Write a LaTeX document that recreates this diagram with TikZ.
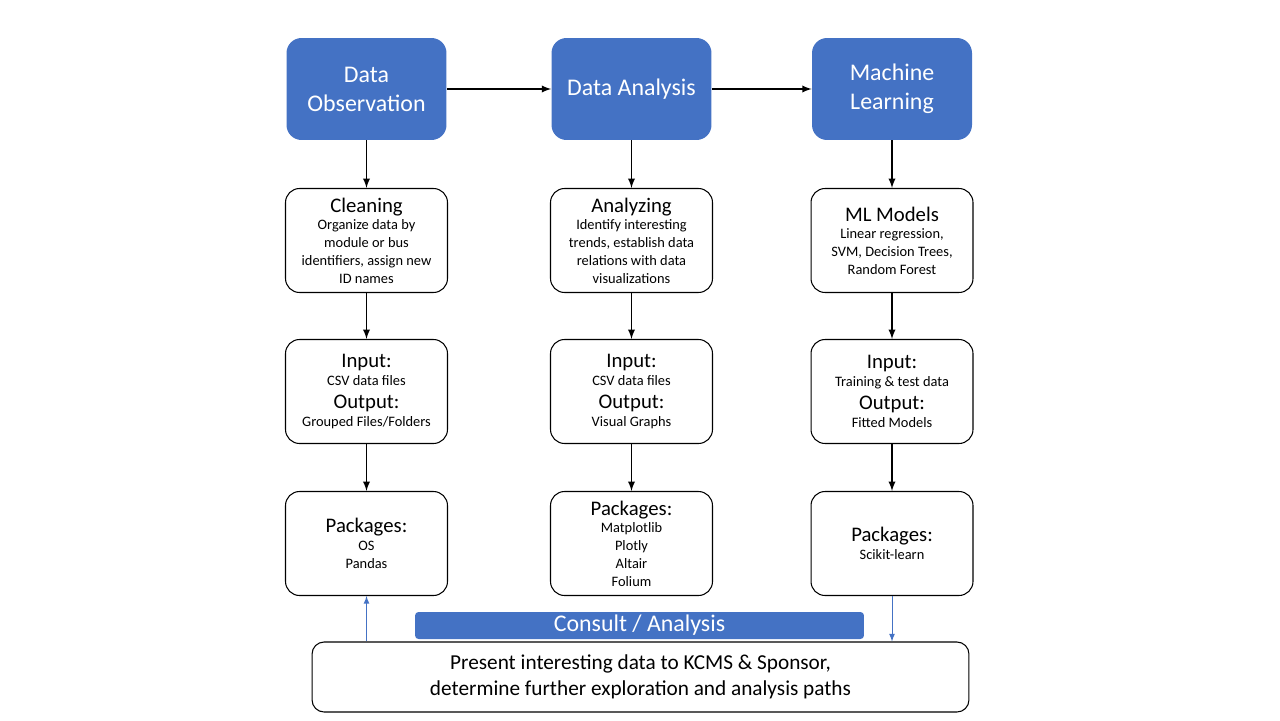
\documentclass[tikz,border=0pt]{standalone}
\usepackage{fontspec}
\setmainfont{Carlito}
\usetikzlibrary{arrows}

\definecolor{stageblue}{RGB}{68,114,196}
\newcommand\hdfont{\fontsize{13.6}{16.5}\selectfont}
\newcommand\ttlfont{\fontsize{11.8}{13}\selectfont}
\newcommand\bdfont{\fontsize{8.2}{10.1}\selectfont}
\newcommand\ftfont{\fontsize{12.1}{14.8}\selectfont}

\tikzset{
  stage/.style={fill=stageblue, rounded corners=0.3cm, text=white,
    minimum width=3.2cm, minimum height=2.04cm, text width=3.0cm,
    align=flush center, font=\hdfont, inner sep=0pt},
  task/.style={draw, line width=0.6pt, rounded corners=0.28cm,
    minimum width=3.24cm, minimum height=2.08cm, text width=3.1cm,
    align=flush center, font=\bdfont, inner sep=0pt},
  flow/.style={arrows={-latex}, line width=0.85pt},
  loopback/.style={arrows={-latex}, line width=0.5pt, draw=stageblue}
}

\begin{document}
\begin{tikzpicture}[x=0.02cm, y=-0.02cm]
\useasboundingbox (0,0) rectangle (1280,720);

% stages
\node[stage] at (366.5,89) (obs) {Data\\Observation};
\node[stage] at (631.5,89) (ana) {Data Analysis};
\node[stage] at (892,89) (ml) {Machine\\Learning};

% work done in each stage
\node[task] at (366.5,240.5) (clean) {\ttlfont Cleaning\par\bdfont Organize data by\\
  module or bus\\ identifiers, assign new\\ ID names};
\node[task] at (631.5,240.5) (study) {\ttlfont Analyzing\par\bdfont Identify interesting\\
  trends, establish data\\ relations with data\\ visualizations};
\node[task] at (892,240.5) (models) {\ttlfont ML Models\par\bdfont Linear regression,\\
  SVM, Decision Trees,\\ Random Forest};

% inputs and outputs
\node[task] at (366.5,391.5) (io1) {\ttlfont Input:\par\bdfont CSV data files\par
  \ttlfont Output:\par\bdfont Grouped Files/Folders};
\node[task] at (631.5,391.5) (io2) {\ttlfont Input:\par\bdfont CSV data files\par
  \ttlfont Output:\par\bdfont Visual Graphs};
\node[task] at (892,391.5) (io3) {\ttlfont Input:\par\bdfont Training \& test data\par
  \ttlfont Output:\par\bdfont Fitted Models};

% packages
\node[task] at (366.5,543.5) (pk1) {\ttlfont Packages:\par\bdfont OS\\ Pandas};
\node[task] at (631.5,543.5) (pk2) {\ttlfont Packages:\par\bdfont Matplotlib\\ Plotly\\
  Altair\\ Folium};
\node[task] at (892,543.5) (pk3) {\ttlfont Packages:\par\bdfont Scikit-learn};

% consulting
\node[fill=stageblue, rounded corners=2pt, text=white, minimum width=8.98cm,
  minimum height=0.54cm, inner sep=0pt, font=\fontsize{13.6}{14}\selectfont]
  at (639.5,625.5) (consult) {Consult / Analysis};
\node[draw, line width=0.6pt, rounded corners=0.24cm, minimum width=13.14cm,
  minimum height=1.4cm, align=center, font=\ftfont]
  at (640.5,677) (present) {Present interesting data to KCMS \& Sponsor,\\
  determine further exploration and analysis paths};

\draw[flow] (obs) to (ana);
\draw[flow] (ana) to (ml);

\draw[flow] (obs) to (clean);
\draw[flow] (clean) to (io1);
\draw[flow] (io1) to (pk1);
\draw[flow] (ana) to (study);
\draw[flow] (study) to (io2);
\draw[flow] (io2) to (pk2);
\draw[flow] (ml) to (models);
\draw[flow] (models) to (io3);
\draw[flow] (io3) to (pk3);

\draw[loopback] (present.north -| pk1.south) to (pk1.south);
\draw[loopback] (pk3.south) to (present.north -| pk3.south);
\end{tikzpicture}
\end{document}
